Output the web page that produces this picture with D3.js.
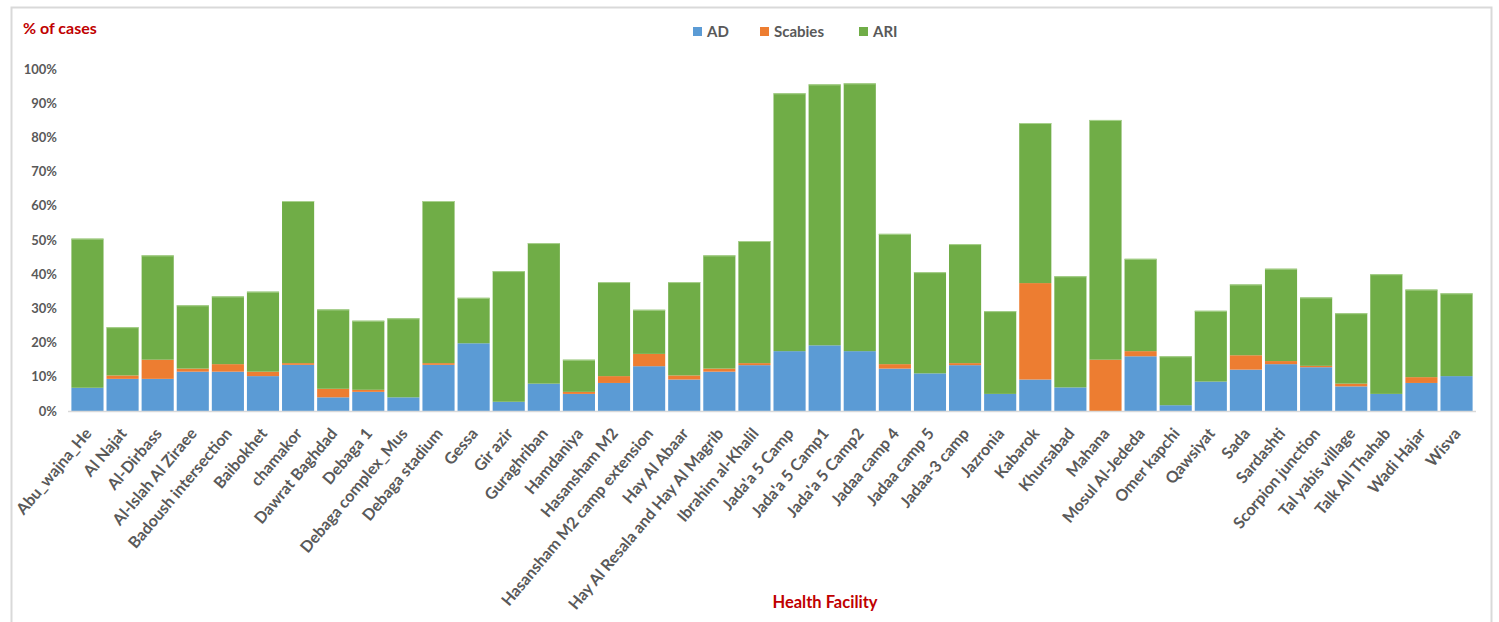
<!DOCTYPE html>
<html>
<head>
<meta charset="utf-8">
<script src="https://cdn.jsdelivr.net/npm/d3@7"></script>
<style>
  html, body { margin: 0; padding: 0; background: #fff; }
  svg { display: block; }
  text { font-family: Lato, "Open Sans", sans-serif; }
</style>
</head>
<body>
<svg id="chart" width="1499" height="622"></svg>
<script>
const categories = [
  "Abu_wajna_He", "Al Najat", "Al-Dirbass", "Al-Islah Al Ziraee", "Badoush intersection",
  "Baibokhet", "chamakor", "Dawrat Baghdad", "Debaga 1", "Debaga complex_Mus",
  "Debaga stadium", "Gessa", "Gir azir", "Guraghriban", "Hamdaniya",
  "Hasansham M2", "Hasansham M2 camp extension", "Hay Al Abaar", "Hay Al Resala and Hay Al Magrib", "Ibrahim al-Khalil",
  "Jada'a 5 Camp", "Jada'a 5 Camp1", "Jada'a 5 Camp2", "Jadaa camp 4", "Jadaa camp 5",
  "Jadaa-3 camp", "Jazronia", "Kabarok", "Khursabad", "Mahana",
  "Mosul Al-Jededa", "Omer kapchi", "Qawsiyat", "Sada", "Sardashti",
  "Scorpion junction", "Tal  yabis village", "Talk All Thahab", "Wadi Hajar", "Wisva"
];
// percentages of cases
const AD = [
  6.8, 9.4, 9.4, 11.5, 11.5, 10.2, 13.5, 4.0, 5.6, 4.0,
  13.5, 19.8, 2.7, 8.0, 5.0, 8.2, 13.1, 9.2, 11.5, 13.4,
  17.5, 19.2, 17.5, 12.4, 11.0, 13.4, 5.0, 9.2, 6.9, 0.0,
  16.0, 1.7, 8.6, 12.1, 13.7, 12.8, 7.2, 5.0, 8.2, 10.2
];
const Scabies = [
  0.0, 1.0, 5.6, 0.9, 2.2, 1.3, 0.5, 2.5, 0.6, 0.0,
  0.5, 0.0, 0.0, 0.0, 0.6, 2.0, 3.6, 1.2, 0.9, 0.6,
  0.0, 0.0, 0.0, 1.3, 0.0, 0.6, 0.0, 28.2, 0.0, 15.0,
  1.5, 0.0, 0.0, 4.2, 0.9, 0.4, 0.8, 0.0, 1.7, 0.0
];
const ARI = [
  43.6, 14.1, 30.5, 18.5, 19.8, 23.4, 47.4, 23.2, 20.2, 23.1,
  47.4, 13.3, 38.2, 41.1, 9.4, 27.5, 12.9, 27.3, 33.1, 35.7,
  75.4, 76.3, 78.3, 38.1, 29.6, 34.8, 24.2, 46.8, 32.5, 70.1,
  27.0, 14.3, 20.7, 20.7, 27.0, 20.0, 20.6, 35.0, 25.6, 24.2
];
const seriesNames = ["AD", "Scabies", "ARI"];
const seriesColors = ["#5b9bd5", "#ed7d31", "#70ad47"];
const yTicks = [0, 10, 20, 30, 40, 50, 60, 70, 80, 90, 100];

const svg = d3.select("#chart");

// outer chart frame
svg.append("rect")
  .attr("x", 11.5).attr("y", 7.5)
  .attr("width", 1480).attr("height", 630)
  .attr("fill", "#fff").attr("stroke", "#d9d9d9").attr("stroke-width", 2);

const x = d3.scaleBand().domain(categories).range([70, 1474]).paddingInner(0.085).paddingOuter(0.04);
const y = d3.scaleLinear().domain([0, 100]).range([411, 69]);

const table = categories.map((c, i) => ({ cat: c, AD: AD[i], Scabies: Scabies[i], ARI: ARI[i] }));
const stacked = d3.stack().keys(seriesNames)(table);
const color = d3.scaleOrdinal().domain(seriesNames).range(seriesColors);

const g = svg.append("g");
g.selectAll("g.series").data(stacked).join("g")
  .attr("class", "series")
  .attr("fill", d => color(d.key))
  .selectAll("rect").data(d => d).join("rect")
  .attr("x", d => x(d.data.cat))
  .attr("width", x.bandwidth())
  .attr("y", d => y(d[1]))
  .attr("height", d => Math.max(0, y(d[0]) - y(d[1])));

// top highlight line on bars (Excel light border)
g.selectAll("line.top").data(table).join("line")
  .attr("x1", d => x(d.cat)).attr("x2", d => x(d.cat) + x.bandwidth())
  .attr("y1", d => y(d.AD + d.Scabies + d.ARI) + 0.5)
  .attr("y2", d => y(d.AD + d.Scabies + d.ARI) + 0.5)
  .attr("stroke", "#a9d18e").attr("stroke-width", 1);

// y axis (labels only)
const yAxis = d3.axisLeft(y).tickValues(yTicks).tickFormat(d => d + "%").tickSize(0).tickPadding(0);
const ya = svg.append("g").attr("transform", "translate(57,0)").call(yAxis);
ya.select(".domain").remove();
ya.selectAll("text")
  .attr("fill", "#595959").attr("font-size", 13).attr("font-weight", "bold")
  .attr("font-family", "Lato, sans-serif");

// x axis
const xAxis = d3.axisBottom(x).tickSize(0).tickPadding(0);
const xa = svg.append("g").attr("transform", "translate(0,411)").call(xAxis);
xa.select(".domain").attr("stroke", "#d9d9d9").attr("stroke-width", 1.5)
  .attr("d", "M68,0.5H1476");
xa.selectAll(".tick text")
  .attr("fill", "#595959").attr("font-size", 16).attr("font-weight", "bold")
  .attr("font-family", "Lato, sans-serif")
  .attr("text-anchor", "end")
  .attr("dy", 0)
  .attr("transform", "translate(5,23) rotate(-50)");

// axis titles
svg.append("text").attr("x", 23).attr("y", 34)
  .attr("fill", "#c00000").attr("font-size", 16).attr("font-weight", "bold")
  .text("% of cases");
svg.append("text").attr("x", 825).attr("y", 608).attr("text-anchor", "middle")
  .attr("fill", "#c00000").attr("font-size", 16.5).attr("font-weight", "bold")
  .text("Health Facility");

// legend
const legendX = [693, 760, 859];
const lg = svg.append("g").selectAll("g").data(seriesNames).join("g")
  .attr("transform", (d, i) => `translate(${legendX[i]},27)`);
lg.append("rect").attr("width", 9).attr("height", 9).attr("fill", d => color(d));
lg.append("text").attr("x", 14).attr("y", 9.5)
  .attr("fill", "#595959").attr("font-size", 15).attr("font-weight", "bold")
  .text(d => d);
</script>
</body>
</html>
